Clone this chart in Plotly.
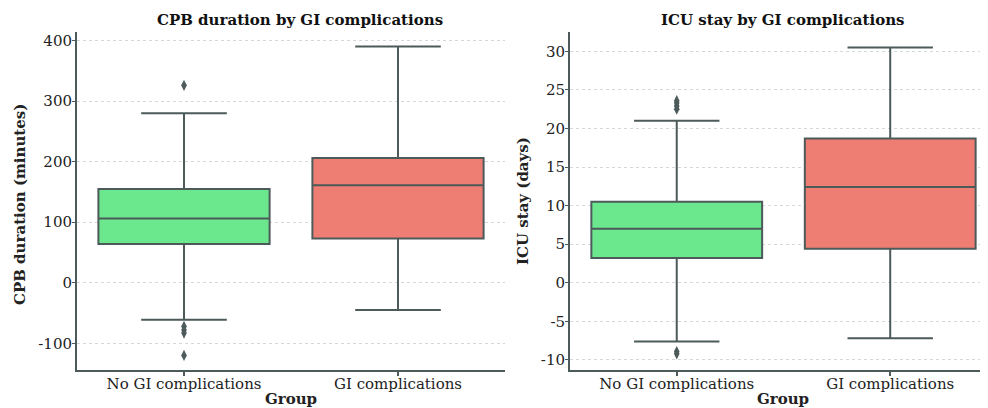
import plotly.graph_objects as go

groups = ["No GI complications", "GI complications"]

# CPB duration (minutes)
cpb_q1 = [64, 73]
cpb_median = [106, 161]
cpb_q3 = [155, 206]
cpb_lower = [-61, -45]
cpb_upper = [280, 390]
cpb_outliers_no = [326, -72, -78, -83, -120]
cpb_ticks = [-100, 0, 100, 200, 300, 400]

# ICU stay (days)
icu_q1 = [3.2, 4.4]
icu_median = [7.0, 12.4]
icu_q3 = [10.5, 18.7]
icu_lower = [-7.6, -7.2]
icu_upper = [21.0, 30.5]
icu_outliers_no = [22.5, 22.9, 23.3, 23.6, -8.9, -9.2]
icu_ticks = [-10, -5, 0, 5, 10, 15, 20, 25, 30]

colors = ["#6be78e", "#ee7e73"]
line_col = "#4c5a5a"
FONT = "DejaVu Serif"
TXT = "#222"

# page body has an 8px margin; figure is sized to fill the rest of the window
OFF = 8
W, H = 980, 400
def px(x):
    return (x - OFF) / W
def py(y):
    return 1 - (y - OFF) / H

fig = go.Figure()

def add_boxes(q1, med, q3, lo, up, xa, ya):
    for i, g in enumerate(groups):
        fig.add_trace(go.Box(
            x=[g], q1=[q1[i]], median=[med[i]], q3=[q3[i]],
            lowerfence=[lo[i]], upperfence=[up[i]],
            width=0.8, whiskerwidth=0.5,
            fillcolor=colors[i], line=dict(color=line_col, width=2),
            boxpoints=False, showlegend=False,
            xaxis=xa, yaxis=ya, hoverinfo="skip",
        ))

add_boxes(cpb_q1, cpb_median, cpb_q3, cpb_lower, cpb_upper, "x", "y")
fig.add_trace(go.Scatter(
    x=[groups[0]] * len(cpb_outliers_no), y=cpb_outliers_no, mode="markers",
    marker=dict(symbol="diamond-tall", size=8, color=line_col),
    showlegend=False, xaxis="x", yaxis="y"))
add_boxes(icu_q1, icu_median, icu_q3, icu_lower, icu_upper, "x2", "y2")
fig.add_trace(go.Scatter(
    x=[groups[0]] * len(icu_outliers_no), y=icu_outliers_no, mode="markers",
    marker=dict(symbol="diamond-tall", size=8, color=line_col),
    showlegend=False, xaxis="x2", yaxis="y2"))

ydom = [py(370), py(32)]
common_x = dict(
    type="category", showline=True, linecolor=line_col, linewidth=2,
    ticks="outside", ticklen=4, tickcolor=line_col, tickwidth=1.5,
    showgrid=False, zeroline=False, automargin=False,
    ticklabelstandoff=-5,
    tickfont=dict(family=FONT, size=15, color=TXT),
)
common_y = dict(
    showline=True, linecolor=line_col, linewidth=2,
    ticks="outside", ticklen=3, tickcolor=line_col, tickwidth=1,
    showgrid=True, gridcolor="#d4d8d8", griddash="dot", gridwidth=1,
    zeroline=False, domain=ydom, automargin=False,
    ticklabelstandoff=-3,
    tickfont=dict(family=FONT, size=15, color=TXT),
)

def lab(v):
    return [str(t) for t in v]

def ann(text, x, y, size=15, angle=0, color=TXT):
    return dict(text=text, x=px(x), y=py(y), xref="paper", yref="paper",
                xanchor="center", yanchor="middle",
                showarrow=False, textangle=angle,
                font=dict(family=FONT, size=size, color=color))

fig.update_layout(
    width=W, height=H,
    margin=dict(l=0, r=0, t=0, b=0),
    paper_bgcolor="white", plot_bgcolor="white",
    xaxis=dict(common_x, domain=[px(77), px(505)], range=[-0.5, 1.5], anchor="y"),
    yaxis=dict(common_y, range=[-144, 414], tickvals=cpb_ticks, ticktext=lab(cpb_ticks),
               anchor="x"),
    xaxis2=dict(common_x, domain=[px(570), 1.0], range=[-0.5, 1.458], anchor="y2"),
    yaxis2=dict(common_y, range=[-11.3, 32.5], tickvals=icu_ticks, ticktext=lab(icu_ticks),
                anchor="x2"),
    annotations=[
        ann("<b>CPB duration by GI complications</b>", 300, 20, 15, color="#111"),
        ann("<b>ICU stay by GI complications</b>", 783, 20, 15, color="#111"),
        ann("<b>Group</b>", 291, 399, 15),
        ann("<b>Group</b>", 783, 399, 15),
        ann("<b>CPB duration (minutes)</b>", 20, 205, 15, angle=-90),
        ann("<b>ICU stay (days)</b>", 523, 201, 15, angle=-90),
    ],
)

fig.write_html("out.html")
